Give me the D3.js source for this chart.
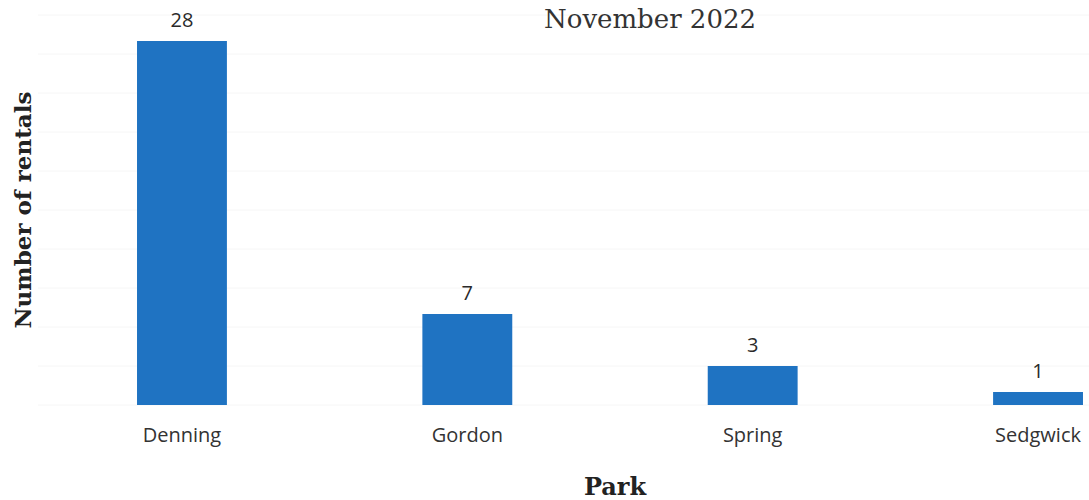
<!DOCTYPE html>
<html>
<head>
<meta charset="utf-8">
<script src="https://cdn.jsdelivr.net/npm/d3@7"></script>
<style>
  body { margin: 0; background: #fff; }
</style>
</head>
<body>
<script>
var parks = ["Denning", "Gordon", "Spring", "Sedgwick"];
var rentals = [28, 7, 3, 1];
var gridTicks = [0, 3, 6, 9, 12, 15, 18, 21, 24, 27, 30];

var svgWidth = 1089;
var svgHeight = 500;

var svg = d3.select("body")
    .append("svg")
    .attr("width", svgWidth)
    .attr("height", svgHeight);

var xBandScale = d3.scaleBand()
    .domain(parks)
    .range([40, 1180])
    .paddingInner(0.685)
    .paddingOuter(0.34);

var yLinearScale = d3.scaleLinear()
    .domain([0, 30])
    .range([405, 15]);

// faint gridlines
svg.append("g")
    .selectAll("line")
    .data(gridTicks)
    .enter()
    .append("line")
    .attr("x1", 38)
    .attr("x2", svgWidth)
    .attr("y1", d => yLinearScale(d))
    .attr("y2", d => yLinearScale(d))
    .attr("stroke", "#f6f6f6")
    .attr("stroke-width", 1);

var data = parks.map((p, i) => ({ park: p, value: rentals[i] }));

svg.append("g")
    .selectAll("rect")
    .data(data)
    .enter()
    .append("rect")
    .attr("x", d => xBandScale(d.park))
    .attr("y", d => yLinearScale(d.value))
    .attr("width", xBandScale.bandwidth())
    .attr("height", d => yLinearScale(0) - yLinearScale(d.value))
    .attr("fill", "#1f73c2");

svg.append("g")
    .selectAll("text")
    .data(data)
    .enter()
    .append("text")
    .attr("x", d => xBandScale(d.park) + xBandScale.bandwidth() / 2)
    .attr("y", d => yLinearScale(d.value) - 14)
    .attr("text-anchor", "middle")
    .attr("font-family", "Open Sans, sans-serif")
    .attr("font-size", "20px")
    .attr("fill", "#2a2a2a")
    .text(d => d.value);

var bottomAxis = d3.axisBottom(xBandScale).tickSize(0).tickPadding(0);

var xAxisGroup = svg.append("g")
    .attr("transform", "translate(0, 428)")
    .call(bottomAxis);
xAxisGroup.select(".domain").remove();
xAxisGroup.selectAll("text")
    .attr("font-family", "Open Sans, sans-serif")
    .attr("font-size", "20px")
    .attr("fill", "#333")
    .attr("dy", "0.71em");

svg.append("text")
    .attr("x", 650)
    .attr("y", 28)
    .attr("text-anchor", "middle")
    .attr("font-family", "DejaVu Serif, serif")
    .attr("font-size", "26px")
    .attr("fill", "#333")
    .text("November 2022");

svg.append("text")
    .attr("transform", "translate(31, 210) rotate(-90)")
    .attr("text-anchor", "middle")
    .attr("font-family", "DejaVu Serif, serif")
    .attr("font-weight", "bold")
    .attr("font-size", "23px")
    .attr("fill", "#222")
    .text("Number of rentals");

svg.append("text")
    .attr("x", 615)
    .attr("y", 495)
    .attr("text-anchor", "middle")
    .attr("font-family", "DejaVu Serif, serif")
    .attr("font-weight", "bold")
    .attr("font-size", "24px")
    .attr("fill", "#222")
    .text("Park");
</script>
</body>
</html>
